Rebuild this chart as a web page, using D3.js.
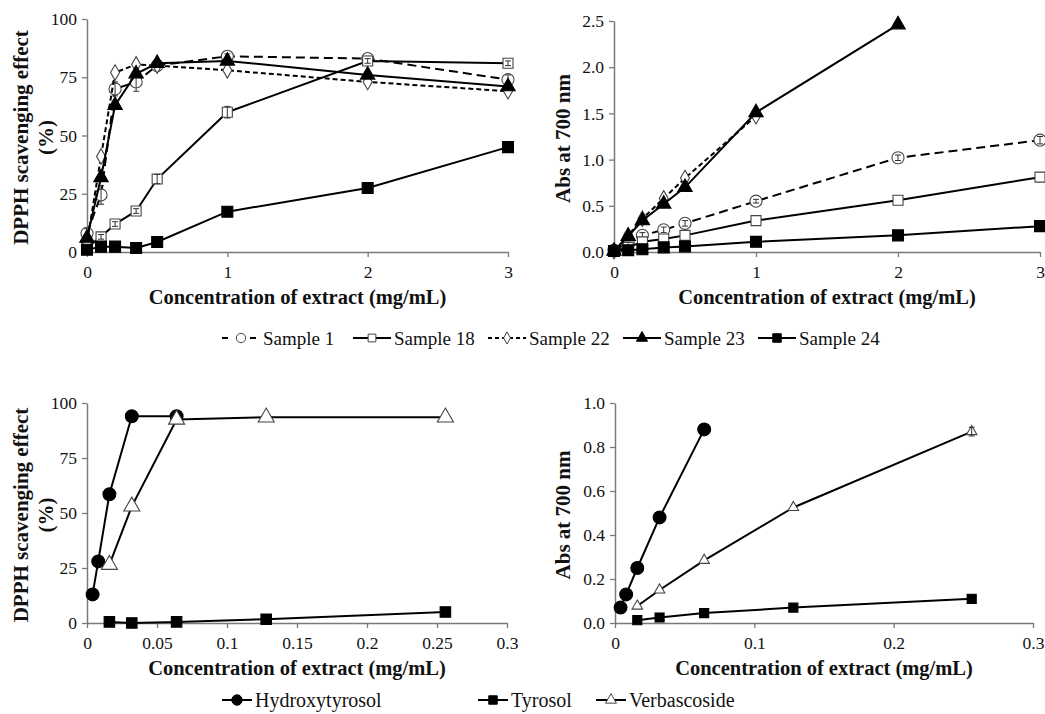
<!DOCTYPE html>
<html><head><meta charset="utf-8">
<script src="https://cdn.jsdelivr.net/npm/d3@7"></script>
<style>
body{margin:0;background:#fff;}
svg text{font-family:"Liberation Serif","Times New Roman",serif;fill:#111;}
</style></head>
<body><svg id="c" width="1045" height="714"></svg>
<script>
// ---------- data ----------
const concTop = [0, 0.1, 0.2, 0.35, 0.5, 1, 2, 3];
const sampleNames = ["Sample 1", "Sample 18", "Sample 22", "Sample 23", "Sample 24"];
const dpphS1  = [8, 24.5, 70, 73, 80, 84, 83, 74];
const dpphS18 = [2, 6.5, 12, 17.6, 31.3, 60, 82, 81];
const dpphS22 = [4, 41, 77, 80.5, 80, 78, 73, 69];
const dpphS23 = [6, 32, 63, 76.5, 81, 82, 76, 71];
const dpphS24 = [1, 2.3, 2.3, 1.7, 4.3, 17.3, 27.5, 45];
const dpphS1Err  = [2, 4, 3, 4, 1, 1, 1, 2];
const dpphS18Err = [0.5, 1, 1, 1, 2, 2.5, 1, 1];
const absS1  = [0.02, 0.10, 0.18, 0.24, 0.31, 0.55, 1.02, 1.21];
const absS18 = [0.01, 0.05, 0.11, 0.14, 0.18, 0.34, 0.56, 0.81];
const absS22 = [0.01, 0.18, 0.36, 0.58, 0.80, 1.47];
const absS23 = [0.01, 0.17, 0.34, 0.52, 0.70, 1.51, 2.46];
const absS24 = [0.01, 0.02, 0.03, 0.05, 0.06, 0.11, 0.18, 0.28];
const absS1Err = [0.01, 0.02, 0.03, 0.03, 0.03, 0.02, 0.03, 0.04];

const pureNames = ["Hydroxytyrosol", "Tyrosol", "Verbascoside"];
const concHT  = [0.004, 0.008, 0.016, 0.032, 0.064];
const concTyr = [0.016, 0.032, 0.064, 0.128, 0.256];
const concVerb = [0.016, 0.032, 0.064, 0.128, 0.256];
const dpphHT   = [13, 28, 58.5, 94, 94];
const dpphTyr  = [0.5, 0, 0.5, 1.7, 5];
const dpphVerb = [26.5, 53, 92.5, 93.5, 93.5];
const absHT   = [0.07, 0.13, 0.25, 0.48, 0.88];
const absTyr  = [0.013, 0.025, 0.045, 0.07, 0.11];
const absVerb = [0.077, 0.15, 0.285, 0.525, 0.87];
const absVerbErr = [0, 0, 0, 0, 0.02];

const xTicksTop = [0, 1, 2, 3];
const yTicksDpph = [0, 25, 50, 75, 100];
const yTicksAbsTop = [0, 0.5, 1, 1.5, 2, 2.5];
const xTicksBL = [0, 0.05, 0.1, 0.15, 0.2, 0.25, 0.3];
const xTicksBR = [0, 0.1, 0.2, 0.3];
const yTicksAbsBot = [0, 0.2, 0.4, 0.6, 0.8, 1.0];
const xTitle = "Concentration of extract (mg/mL)";

// ---------- styles ----------
const styleTop = [
  {shape: d3.symbolCircle, size: 115, fill: "#fff", dash: "9,5"},
  {shape: d3.symbolSquare, size: 100, fill: "#fff", dash: null},
  {shape: d3.symbolDiamond, size: 70, fill: "#fff", dash: "5,3"},
  {shape: d3.symbolTriangle, size: 90, fill: "#000", dash: null},
  {shape: d3.symbolSquare, size: 120, fill: "#000", dash: null}
];
const styleBot = [
  {shape: d3.symbolCircle, size: 130, fill: "#000", dash: null},
  {shape: d3.symbolSquare, size: 110, fill: "#000", dash: null},
  {shape: d3.symbolTriangle, size: 80, fill: "#fff", dash: null}
];

const svg = d3.select("#c");

function panel(o) {
  const g = svg.append("g");
  const x = d3.scaleLinear().domain(o.xd).range([o.x0, o.x1]);
  const y = d3.scaleLinear().domain(o.yd).range([o.y0, o.y1]);
  const ax = g.append("g").attr("transform", `translate(0,${o.y0})`)
    .call(d3.axisBottom(x).tickValues(o.xt).tickFormat(o.xf).tickSize(5).tickSizeOuter(0).tickPadding(9));
  const ay = g.append("g").attr("transform", `translate(${o.x0},0)`)
    .call(d3.axisLeft(y).tickValues(o.yt).tickFormat(o.yf).tickSize(5).tickSizeOuter(0).tickPadding(5));
  [ax, ay].forEach(a => {
    a.select(".domain").attr("stroke", "#7a7a7a").attr("stroke-width", 1.5);
    a.selectAll(".tick line").attr("stroke", "#7a7a7a").attr("stroke-width", 1.3);
    a.selectAll("text").attr("font-size", 17.5).style("font-family", "Liberation Serif").attr("fill", "#222");
  });
  // titles
  g.append("text").attr("x", (o.x0 + o.x1) / 2).attr("y", o.y0 + 52)
    .attr("text-anchor", "middle").attr("font-size", 20.5).attr("font-weight", "bold").text(xTitle);
  const cy = (o.y0 + o.y1) / 2 + 2;
  o.ylab.forEach((t, i) => {
    g.append("text").attr("transform", `translate(${o.ylx[i]},${cy}) rotate(-90)`)
      .attr("text-anchor", "middle").attr("dominant-baseline", "central")
      .attr("font-size", 21).attr("font-weight", "bold").text(t);
  });
  // series
  o.series.forEach((s, i) => {
    const st = o.styles[i];
    const pts = s.y.map((v, j) => ({x: s.x[j], y: v, e: s.e ? s.e[j] : 0}));
    g.append("path").datum(pts)
      .attr("d", d3.line().x(d => x(d.x)).y(d => y(d.y)))
      .attr("fill", "none").attr("stroke", "#000").attr("stroke-width", 2)
      .attr("stroke-dasharray", st.dash);
    const sz = st.size * (s.sizeMul || 1);
    pts.forEach(p => {
      g.append("path").attr("d", d3.symbol(st.shape, sz)())
        .attr("transform", `translate(${x(p.x)},${y(p.y)})`)
        .attr("fill", st.fill).attr("stroke", st.fill === "#000" ? "#000" : "#444").attr("stroke-width", 1.1);
      if (p.e > 0) {
        const y1 = y(p.y + p.e), y2 = y(p.y - p.e), xc = x(p.x);
        g.append("path").attr("d", `M${xc},${y1}V${y2}M${xc-3},${y1}H${xc+3}M${xc-3},${y2}H${xc+3}`)
          .attr("stroke", "#333").attr("stroke-width", 1).attr("fill", "none");
      }
    });
  });
}

const fmtInt = d3.format("d");
const fmt1 = d3.format(".1f");
const fmtTrim = d => d3.format("~g")(d);

panel({xd: [0, 3], yd: [0, 100], x0: 87, x1: 508, y0: 252, y1: 19,
  xt: xTicksTop, xf: fmtInt, yt: yTicksDpph, yf: fmtInt,
  ylab: ["DPPH scavenging effect", "(%)"], ylx: [21, 46], styles: styleTop,
  series: [
    {x: concTop, y: dpphS1, e: dpphS1Err},
    {x: concTop, y: dpphS18, e: dpphS18Err},
    {x: concTop, y: dpphS22},
    {x: concTop, y: dpphS23},
    {x: concTop, y: dpphS24}
  ]});

panel({xd: [0, 3], yd: [0, 2.5], x0: 614, x1: 1040, y0: 252, y1: 21,
  xt: xTicksTop, xf: fmtInt, yt: yTicksAbsTop, yf: fmt1,
  ylab: ["Abs at 700 nm"], ylx: [563], styles: styleTop,
  series: [
    {x: concTop, y: absS1, e: absS1Err},
    {x: concTop, y: absS18},
    {x: concTop.slice(0, absS22.length), y: absS22},
    {x: concTop.slice(0, absS23.length), y: absS23},
    {x: concTop, y: absS24}
  ]});

panel({xd: [0, 0.3], yd: [0, 100], x0: 87, x1: 507, y0: 623, y1: 403,
  xt: xTicksBL, xf: fmtTrim, yt: yTicksDpph, yf: fmtInt,
  ylab: ["DPPH scavenging effect", "(%)"], ylx: [21, 46], styles: styleBot,
  series: [
    {x: concHT, y: dpphHT},
    {x: concTyr, y: dpphTyr},
    {x: concVerb, y: dpphVerb, sizeMul: 1.4}
  ]});

panel({xd: [0, 0.3], yd: [0, 1], x0: 615, x1: 1033, y0: 623, y1: 403,
  xt: xTicksBR, xf: fmtTrim, yt: yTicksAbsBot, yf: fmt1,
  ylab: ["Abs at 700 nm"], ylx: [563], styles: styleBot,
  series: [
    {x: concHT, y: absHT},
    {x: concTyr, y: absTyr, sizeMul: 0.75},
    {x: concVerb, y: absVerb, e: absVerbErr, sizeMul: 0.6}
  ]});

// ---------- legends ----------
function legend(names, styles, xs, yc, segLen, symScale, fs) {
  const g = svg.append("g");
  names.forEach((n, i) => {
    const st = styles[i];
    const x0 = xs[i];
    g.append("line").attr("x1", x0).attr("x2", x0 + segLen).attr("y1", yc).attr("y2", yc)
      .attr("stroke", "#000").attr("stroke-width", 2).attr("stroke-dasharray", st.dash ? (st.dash === "9,5" ? "6,8" : "4,3") : null);
    g.append("path").attr("d", d3.symbol(st.shape, st.size * symScale)())
      .attr("transform", `translate(${x0 + segLen / 2},${yc})`)
      .attr("fill", st.fill).attr("stroke", st.fill === "#000" ? "#000" : "#444").attr("stroke-width", 1);
    g.append("text").attr("x", x0 + segLen + 3).attr("y", yc).attr("dominant-baseline", "central")
      .attr("font-size", fs).text(n);
  });
}
legend(sampleNames, styleTop, [222, 353, 488, 623, 758], 338, 38, 0.6, 19);
legend(pureNames, styleBot, [222, 478, 596], 700, 30, 0.65, 20);
</script></body></html>
